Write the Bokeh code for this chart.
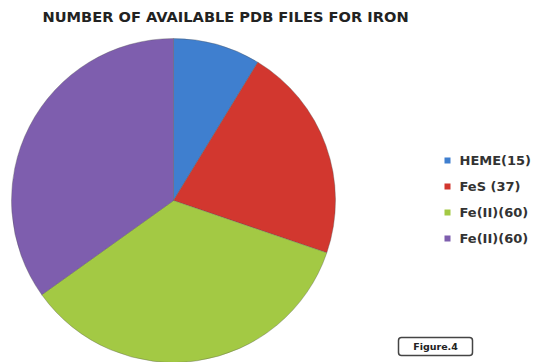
import numpy as np
from bokeh.plotting import figure
from bokeh.models import ColumnDataSource, Range1d
from bokeh.core.properties import value
from bokeh.embed import file_html
from bokeh.resources import INLINE

# ---- data ----
categories = ["HEME", "FeS", "Fe(II)", "Fe(III)"]
counts = [15, 37, 60, 60]
legend_labels = ["HEME(15)", "FeS (37)", "Fe(II)(60)", "Fe(II)(60)"]
colors = ["#3F7FCF", "#D2372F", "#A3C944", "#7E5EAE"]
title_text = "NUMBER OF AVAILABLE PDB FILES FOR IRON"
figure_label = "Figure.4"

W, H = 539, 362
p = figure(width=W, height=H, output_backend="svg", toolbar_location=None,
           x_range=Range1d(0, W), y_range=Range1d(0, H),
           min_border=0, outline_line_color=None)
p.axis.visible = False
p.grid.visible = False
p.background_fill_color = "white"
p.border_fill_color = "white"

# pie
vals = np.array(counts, dtype=float)
frac = vals / vals.sum()
cum = np.concatenate([[0.0], np.cumsum(frac)])
start = np.pi / 2 - cum[:-1] * 2 * np.pi
end = np.pi / 2 - cum[1:] * 2 * np.pi
src = ColumnDataSource(dict(start=start, end=end, color=colors, cat=categories))
cx, cy, r = 173, 162, 162
p.wedge(x=cx, y=cy, radius=r, start_angle="start", end_angle="end",
        direction="clock", fill_color="color", line_color="#555555",
        line_alpha=0.35, line_width=1, source=src)

# title
p.text(x=[42], y=[H - 16], text=[title_text], text_font=value("DejaVu Sans"),
       text_font_style="bold", text_font_size="14.6px", text_color="#222222",
       text_baseline="middle", text_align="left")

# legend
n = len(legend_labels)
ly = [H - (160 + 26 * i) for i in range(n)]
p.rect(x=[447] * n, y=ly, width=6, height=6, fill_color=colors, line_color=None)
p.text(x=[459] * n, y=ly, text=legend_labels, text_font=value("DejaVu Sans"),
       text_font_style="bold", text_font_size="13px", text_color="#333333",
       text_baseline="middle", text_align="left")

# figure label box
p.quad(left=[398], right=[472], bottom=[H - 355], top=[H - 337],
       fill_color="white", line_color="#444444", line_width=1.5, border_radius=3)
p.text(x=[435], y=[H - 346], text=[figure_label], text_font=value("DejaVu Sans"),
       text_font_style="bold", text_font_size="9.5px", text_color="#222222",
       text_baseline="middle", text_align="center")

open("out.html", "w").write(file_html(p, INLINE))
